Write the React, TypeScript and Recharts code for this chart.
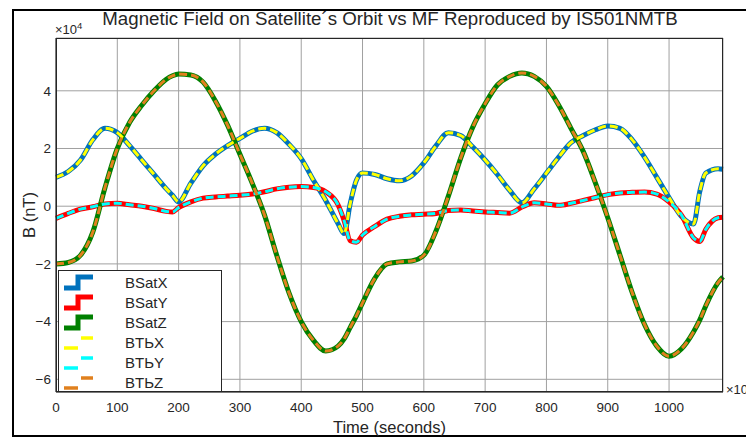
import { LineChart, Line, XAxis, YAxis, CartesianGrid, Legend } from 'recharts'

const FONT = '"Liberation Sans", Arial, Helvetica, sans-serif'
const INK = '#262626'

const time = [
  0, 20, 40, 60, 80, 100, 120, 140, 160, 180, 190, 200, 220, 240, 260, 280, 300, 320, 340, 360,
  380, 400, 420, 440, 460, 470, 480, 490, 500, 520, 540, 560, 580, 600, 620, 640, 660, 680, 700,
  720, 740, 760, 780, 800, 820, 840, 860, 880, 900, 920, 940, 960, 980, 1000, 1020, 1040, 1050,
  1060, 1080, 1088,
]

const bsatX = [
  1.0, 1.2, 1.6, 2.3, 2.7, 2.55, 2.1, 1.6, 1.1, 0.6, 0.38, 0.15, 0.8, 1.4, 1.8, 2.1, 2.35, 2.6, 2.7, 2.55,
  2.15, 1.65, 0.9, 0.2, -0.6, -0.95, 0.1, 0.9, 1.15, 1.1, 0.95, 0.88, 1.05, 1.5, 2.1, 2.55, 2.45, 2.05, 1.6,
  1.1, 0.55, 0.12, 0.6, 1.15, 1.7, 2.2, 2.45, 2.65, 2.78, 2.7, 2.3, 1.7, 1.0, 0.3, -0.35, -0.62, 0.5,
  1.15, 1.3, 1.28,
]
const bsatY = [
  -0.42, -0.25, -0.1, -0.02, 0.08, 0.1, 0.05, 0.0, -0.08, -0.18, -0.2, -0.05, 0.15, 0.28, 0.32, 0.35, 0.38, 0.42, 0.5, 0.6,
  0.66, 0.68, 0.65, 0.5, 0.05, -0.5, -1.2, -1.25, -1.0, -0.7, -0.45, -0.35, -0.3, -0.28, -0.25, -0.15, -0.13, -0.17, -0.2,
  -0.22, -0.24, -0.03, 0.12, 0.08, 0.03, 0.1, 0.2, 0.3, 0.4, 0.46, 0.48, 0.49, 0.42, 0.15, -0.3, -1.1, -1.22,
  -0.8, -0.4, -0.38,
]
const bsatZ = [
  -2.0, -1.95, -1.7, -0.9, 0.65, 2.0, 2.9, 3.5, 4.0, 4.4, 4.52, 4.58, 4.55, 4.3, 3.65, 2.8, 1.8, 0.8, -0.3, -1.7,
  -3.0, -4.0, -4.65, -5.02, -4.85, -4.6, -4.2, -3.8, -3.35, -2.5, -2.0, -1.93, -1.9, -1.7, -0.85, 0.35, 1.66, 2.75, 3.55,
  4.2, 4.5, 4.62, 4.5, 4.15, 3.5, 2.7, 1.9, 0.8, -0.4, -1.7, -3.0, -4.1, -4.85, -5.2, -4.95, -4.35, -3.95,
  -3.45, -2.65, -2.45,
]
const btbX = [
  1.0, 1.2, 1.6, 2.3, 2.7, 2.55, 2.1, 1.6, 1.1, 0.6, 0.38, 0.15, 0.8, 1.4, 1.8, 2.1, 2.35, 2.6, 2.7, 2.55,
  2.15, 1.65, 0.9, 0.2, -0.6, -0.95, 0.1, 0.9, 1.15, 1.1, 0.95, 0.88, 1.05, 1.5, 2.1, 2.55, 2.45, 2.05, 1.6,
  1.1, 0.55, 0.12, 0.6, 1.15, 1.7, 2.2, 2.45, 2.65, 2.78, 2.7, 2.3, 1.7, 1.0, 0.3, -0.35, -0.62, 0.5,
  1.15, 1.3, 1.28,
]
const btbY = [
  -0.42, -0.25, -0.1, -0.02, 0.08, 0.1, 0.05, 0.0, -0.08, -0.18, -0.2, -0.05, 0.15, 0.28, 0.32, 0.35, 0.38, 0.42, 0.5, 0.6,
  0.66, 0.68, 0.65, 0.5, 0.05, -0.5, -1.2, -1.25, -1.0, -0.7, -0.45, -0.35, -0.3, -0.28, -0.25, -0.15, -0.13, -0.17, -0.2,
  -0.22, -0.24, -0.03, 0.12, 0.08, 0.03, 0.1, 0.2, 0.3, 0.4, 0.46, 0.48, 0.49, 0.42, 0.15, -0.3, -1.1, -1.22,
  -0.8, -0.4, -0.38,
]
const btbZ = [
  -2.0, -1.95, -1.7, -0.9, 0.65, 2.0, 2.9, 3.5, 4.0, 4.4, 4.52, 4.58, 4.55, 4.3, 3.65, 2.8, 1.8, 0.8, -0.3, -1.7,
  -3.0, -4.0, -4.65, -5.02, -4.85, -4.6, -4.2, -3.8, -3.35, -2.5, -2.0, -1.93, -1.9, -1.7, -0.85, 0.35, 1.66, 2.75, 3.55,
  4.2, 4.5, 4.62, 4.5, 4.15, 3.5, 2.7, 1.9, 0.8, -0.4, -1.7, -3.0, -4.1, -4.85, -5.2, -4.95, -4.35, -3.95,
  -3.45, -2.65, -2.45,
]

const xTicks = [0, 100, 200, 300, 400, 500, 600, 700, 800, 900, 1000]
const yTicks = [-6, -4, -2, 0, 2, 4]

const SERIES = [
  { key: 'bsatX', name: 'BSatX', color: '#0072BD', values: bsatX, dashed: false },
  { key: 'bsatY', name: 'BSatY', color: '#FF0000', values: bsatY, dashed: false },
  { key: 'bsatZ', name: 'BSatZ', color: '#008000', values: bsatZ, dashed: false },
  { key: 'btbX', name: 'BTЬX', color: '#FFFF00', values: btbX, dashed: true },
  { key: 'btbY', name: 'BTЬY', color: '#00FFFF', values: btbY, dashed: true },
  { key: 'btbZ', name: 'BTЬZ', color: '#E0801E', values: btbZ, dashed: true },
]

const data = time.map((t, i) => {
  const row: Record<string, number> = { t }
  SERIES.forEach(s => { row[s.key] = s.values[i] })
  return row
})

const minus = (v: number) => String(v).replace('-', '\u2212')

function LegendBox() {
  return (
    <div style={{ width: 164, height: 122, background: '#fff', border: `1px solid ${INK}`, boxSizing: 'border-box', position: 'relative' }}>
      <svg width={162} height={120} style={{ position: 'absolute', left: 0, top: 0 }}>
        {SERIES.map((s, i) => {
          const y = 12 + 20 * i
          return (
            <g key={s.key}>
              {s.dashed ? (
                <>
                  <line x1={5} y1={y + 5} x2={19} y2={y + 5} stroke={s.color} strokeWidth={3.5} />
                  <line x1={22} y1={y - 5} x2={34} y2={y - 5} stroke={s.color} strokeWidth={3.5} />
                </>
              ) : (
                <polyline points={`5,${y + 5} 19,${y + 5} 19,${y - 6} 34,${y - 6}`} fill="none" stroke={s.color} strokeWidth={5} />
              )}
              <text x={66} y={y + 5} fontSize={15} fontFamily={FONT} fill={INK}>{s.name}</text>
            </g>
          )
        })}
      </svg>
    </div>
  )
}

export default function App() {
  return (
    <div style={{ position: 'relative', width: 746, height: 431, fontFamily: FONT }}>
      <div style={{ position: 'absolute', left: 4, top: 1, width: 738, height: 428, border: '2.5px solid #000', boxSizing: 'border-box' }} />
      <div style={{ position: 'absolute', left: 0, width: 716, top: 0, textAlign: 'center', fontSize: 18.7, color: INK, paddingLeft: 48, boxSizing: 'border-box', whiteSpace: 'nowrap' }}>
        Magnetic Field on Satellite´s Orbit vs MF Reproduced by IS501NMTB
      </div>
      <div style={{ position: 'absolute', left: 47, top: 12, fontSize: 13, color: INK }}>
        ×10<sup style={{ fontSize: 9.5 }}>4</sup>
      </div>
      <div style={{ position: 'absolute', left: 718, top: 374, fontSize: 13, color: INK, whiteSpace: 'nowrap' }}>
        ×10
      </div>
      <LineChart width={746} height={431} data={data} margin={{ top: 30, right: 31, bottom: 0, left: 0 }} style={{ position: 'absolute', left: 0, top: 0 }}>
        <CartesianGrid stroke="#a0a0a0" strokeWidth={1} />
        <XAxis
          dataKey="t"
          type="number"
          domain={[0, 1088]}
          ticks={xTicks}
          height={47}
          tickLine={false}
          tickSize={8}
          tickMargin={2}
          axisLine={{ stroke: INK }}
          tick={{ fill: INK, fontSize: 13.5, fontFamily: FONT }}
          label={{ value: 'Time (seconds)', position: 'insideBottom', offset: 6, fill: INK, fontSize: 16.5, fontFamily: FONT }}
        />
        <YAxis
          type="number"
          domain={[-6.44, 5.83]}
          ticks={yTicks}
          width={48}
          tickLine={false}
          tickSize={3}
          tickMargin={2}
          axisLine={{ stroke: INK }}
          tickFormatter={minus}
          tick={{ fill: INK, fontSize: 13.5, fontFamily: FONT }}
          label={{ value: 'B (nT)', angle: -90, position: 'center', dx: -3, fill: INK, fontSize: 16.5, fontFamily: FONT }}
        />
        {SERIES.filter(s => !s.dashed).map(s => (
          <Line key={s.key} type="monotone" dataKey={s.key} stroke={s.color} strokeWidth={5} dot={false} isAnimationActive={false} />
        ))}
        {SERIES.filter(s => s.dashed).map(s => (
          <Line key={s.key} type="monotone" dataKey={s.key} stroke={s.color} strokeWidth={3} strokeDasharray="8 4" dot={false} isAnimationActive={false} />
        ))}
        <Legend
          layout="vertical"
          align="center"
          verticalAlign="middle"
          content={() => <LegendBox />}
          wrapperStyle={{ left: 50, top: 262, width: 164, height: 122 }}
        />
      </LineChart>
      <div style={{ position: 'absolute', left: 48, top: 30, width: 667, height: 354, border: `1px solid ${INK}`, boxSizing: 'border-box', pointerEvents: 'none' }} />
    </div>
  )
}
